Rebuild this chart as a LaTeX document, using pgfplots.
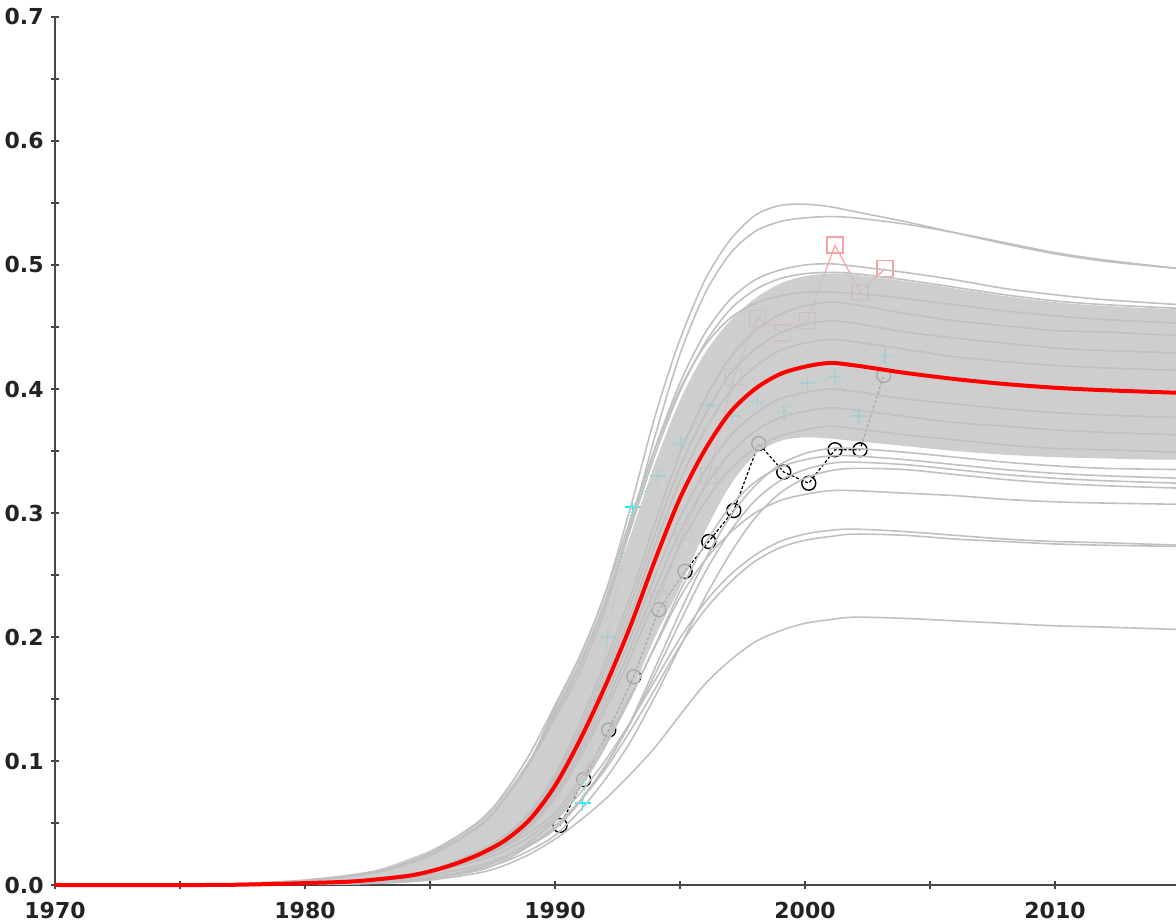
\documentclass[border=0pt]{standalone}
\usepackage{fontspec}
\setmainfont{DejaVu Sans}
\usepackage{pgfplots}
\pgfplotsset{compat=1.18}
\definecolor{bandc}{RGB}{198,198,198}
\definecolor{gline}{RGB}{192,192,192}
\definecolor{pinkm}{RGB}{255,160,160}
\definecolor{cyanm}{RGB}{0,255,255}
\definecolor{redm}{RGB}{255,0,0}
\definecolor{axgray}{RGB}{70,70,70}
\definecolor{txt}{RGB}{35,35,35}
\pgfplotsset{
  base/.style={scale only axis, width=560.5pt, height=434pt,
    xmin=1970, xmax=2014.84, ymin=0, ymax=0.7, at={(0pt,0pt)}, anchor=south west},
  gl/.style={gline, line width=0.8pt, smooth, mark=none},
}
\begin{document}
\begin{tikzpicture}
\useasboundingbox (-27.5pt,-19.5pt) rectangle (560.5pt,442.5pt);
\begin{axis}[base, clip marker paths=true,
  axis x line*=bottom, axis y line*=left,
  axis line style={-, draw=axgray, line width=1pt},
  xtick={1970,1980,1990,2000,2010}, xticklabels={1970,1980,1990,2000,2010},
  minor xtick={1975,1985,1995,2005},
  ytick={0,0.1,0.2,0.3,0.4,0.5,0.6,0.7},
  yticklabels={0.0,0.1,0.2,0.3,0.4,0.5,0.6,0.7},
  minor ytick={0.05,0.15,0.25,0.35,0.45,0.55,0.65},
  tick align=center, major tick length=4pt, minor tick length=4pt,
  tick style={draw=axgray, line width=0.8pt},
  tick label style={font=\fontsize{11}{13}\selectfont\bfseries, text=txt},
  yticklabel style={anchor=east, inner sep=0pt, xshift=-3.5pt},
  xticklabel style={anchor=north, inner sep=0pt, yshift=-6.5pt},
]
% --- observation series (drawn first, partly hidden by the ensemble) ---
\addplot[cyanm, densely dotted, line width=0.6pt, mark=+, mark size=4pt,
  mark options={solid, line width=0.8pt}] coordinates {
  (1991.1,0.066) (1992.1,0.200) (1993.1,0.305) (1994.1,0.330) (1995.05,0.356)
  (1996.1,0.387) (1997.1,0.378) (1998.1,0.390) (1999.15,0.381) (2000.1,0.405)
  (2001.2,0.410) (2002.15,0.378) (2003.2,0.427)};
\addplot[black, dash pattern=on 1.5pt off 1pt, line width=0.6pt, mark=o, mark size=3.5pt,
  mark options={solid, line width=0.7pt}] coordinates {
  (1990.2,0.048) (1991.15,0.085) (1992.15,0.125) (1993.15,0.168) (1994.15,0.222)
  (1995.2,0.253) (1996.15,0.277) (1997.15,0.302) (1998.15,0.356) (1999.15,0.333)
  (2000.15,0.324) (2001.2,0.351) (2002.2,0.351) (2003.15,0.411)};
\addplot[pinkm, line width=0.6pt, mark=square, mark size=4pt,
  mark options={line width=0.7pt}] coordinates {
  (1994.15,0.230) (1995.15,0.285) (1996.15,0.330) (1997.15,0.410) (1998.1,0.457)
  (1999.1,0.445) (2000.1,0.455) (2001.2,0.516) (2002.2,0.478) (2003.2,0.497)};
% --- dense core of the ensemble ---
\addplot[fill=bandc, draw=none, fill opacity=0.85, smooth] coordinates {
  (1976,0) (1978,0.001) (1980,0.0035) (1982,0.008) (1983,0.013) (1984,0.020)
  (1985,0.028) (1986,0.039) (1987,0.053) (1988,0.074) (1989,0.102) (1990,0.138)
  (1991,0.176) (1992,0.224) (1993,0.281) (1994,0.340) (1995,0.391) (1996,0.429)
  (1997,0.455) (1998,0.473) (1999,0.485) (2000,0.491) (2001,0.493) (2002,0.492)
  (2004,0.487) (2006,0.481) (2008,0.475) (2010,0.470) (2012,0.467) (2014,0.465)
  (2016,0.464) (2018,0.464)
  (2018,0.343) (2016,0.343) (2014,0.343) (2012,0.344) (2010,0.345) (2008,0.347)
  (2006,0.350) (2004,0.354) (2002,0.358) (2001,0.360) (2000,0.361) (1999,0.358)
  (1998,0.347) (1997,0.322) (1996,0.285) (1995,0.240) (1994,0.200) (1993,0.152)
  (1992,0.110) (1991,0.077) (1990,0.050) (1989,0.033) (1988,0.021) (1987,0.013)
  (1986,0.008) (1985,0.004) (1984,0.002) (1982,0.0005) (1980,0) (1976,0)} -- cycle;
% --- individual ensemble members ---
% inner members
\addplot[gl] coordinates {(1976,0) (1980,0.0017) (1983,0.0056) (1985,0.012) (1987,0.028) (1988,0.040) (1989,0.059) (1990,0.089) (1991,0.131) (1992,0.179) (1993,0.232) (1994,0.292) (1995,0.348) (1996,0.392) (1997,0.425) (1998,0.447) (1999,0.460) (2000,0.467) (2001,0.470) (2002,0.468) (2004,0.461) (2006,0.455) (2008,0.451) (2010,0.447) (2012,0.446) (2015,0.443)};
\addplot[gl] coordinates {(1976,0) (1980,0.0016) (1983,0.0055) (1985,0.012) (1987,0.027) (1988,0.039) (1989,0.057) (1990,0.086) (1991,0.126) (1992,0.173) (1993,0.225) (1994,0.283) (1995,0.337) (1996,0.379) (1997,0.412) (1998,0.432) (1999,0.445) (2000,0.452) (2001,0.455) (2002,0.453) (2004,0.446) (2006,0.441) (2008,0.437) (2010,0.433) (2012,0.431) (2015,0.429)};
\addplot[gl] coordinates {(1976,0) (1980,0.0016) (1983,0.0053) (1985,0.011) (1987,0.026) (1988,0.038) (1989,0.055) (1990,0.084) (1991,0.122) (1992,0.167) (1993,0.217) (1994,0.274) (1995,0.326) (1996,0.367) (1997,0.398) (1998,0.418) (1999,0.431) (2000,0.437) (2001,0.440) (2002,0.438) (2004,0.432) (2006,0.426) (2008,0.422) (2010,0.419) (2012,0.417) (2015,0.415)};
\addplot[gl] coordinates {(1976,0) (1980,0.0014) (1983,0.0048) (1985,0.010) (1987,0.024) (1988,0.034) (1989,0.050) (1990,0.076) (1991,0.111) (1992,0.152) (1993,0.198) (1994,0.249) (1995,0.296) (1996,0.334) (1997,0.362) (1998,0.380) (1999,0.392) (2000,0.397) (2001,0.400) (2002,0.398) (2004,0.392) (2006,0.388) (2008,0.384) (2010,0.381) (2012,0.379) (2015,0.377)};
\addplot[gl] coordinates {(1976,0) (1980,0.0014) (1983,0.0046) (1985,0.010) (1987,0.023) (1988,0.033) (1989,0.049) (1990,0.073) (1991,0.107) (1992,0.146) (1993,0.190) (1994,0.239) (1995,0.285) (1996,0.321) (1997,0.348) (1998,0.366) (1999,0.377) (2000,0.382) (2001,0.385) (2002,0.383) (2004,0.378) (2006,0.373) (2008,0.370) (2010,0.367) (2012,0.365) (2015,0.363)};
\addplot[gl] coordinates {(1976,0) (1980,0.0013) (1983,0.0044) (1985,0.0096) (1987,0.022) (1988,0.032) (1989,0.047) (1990,0.070) (1991,0.103) (1992,0.141) (1993,0.183) (1994,0.230) (1995,0.274) (1996,0.309) (1997,0.335) (1998,0.352) (1999,0.362) (2000,0.367) (2001,0.370) (2002,0.368) (2004,0.363) (2006,0.359) (2008,0.355) (2010,0.352) (2012,0.351) (2015,0.349)};
% A
\addplot[gl] coordinates {(1976,0) (1980,0.004) (1983,0.012) (1985,0.026) (1987,0.052) (1988,0.075) (1989,0.106) (1990,0.145) (1991,0.185) (1992,0.235) (1993,0.303) (1994,0.378) (1995,0.440) (1996,0.488) (1997,0.520) (1998,0.540) (1999,0.548) (2000,0.549) (2001,0.547) (2002,0.543) (2004,0.535) (2006,0.526) (2008,0.517) (2010,0.509) (2012,0.503) (2015,0.497)};
% B
\addplot[gl] coordinates {(1976,0) (1980,0.003) (1983,0.011) (1985,0.024) (1987,0.048) (1988,0.070) (1989,0.099) (1990,0.135) (1991,0.172) (1992,0.222) (1993,0.288) (1994,0.362) (1995,0.428) (1996,0.477) (1997,0.509) (1998,0.527) (1999,0.535) (2000,0.538) (2001,0.539) (2002,0.538) (2004,0.533) (2006,0.526) (2008,0.518) (2010,0.510) (2012,0.504) (2015,0.497)};
% U1
\addplot[gl] coordinates {(1976,0) (1980,0.003) (1983,0.011) (1985,0.024) (1987,0.048) (1988,0.070) (1989,0.100) (1990,0.140) (1991,0.180) (1992,0.229) (1993,0.290) (1994,0.352) (1995,0.405) (1996,0.445) (1997,0.472) (1998,0.488) (1999,0.496) (2000,0.500) (2001,0.501) (2002,0.499) (2004,0.494) (2006,0.488) (2008,0.481) (2010,0.476) (2012,0.472) (2015,0.468)};
% U2
\addplot[gl] coordinates {(1976,0) (1980,0.003) (1983,0.011) (1985,0.024) (1987,0.048) (1988,0.070) (1989,0.100) (1990,0.138) (1991,0.177) (1992,0.226) (1993,0.286) (1994,0.347) (1995,0.398) (1996,0.437) (1997,0.464) (1998,0.480) (1999,0.489) (2000,0.493) (2001,0.494) (2002,0.493) (2004,0.488) (2006,0.482) (2008,0.476) (2010,0.471) (2012,0.468) (2015,0.465)};
% U3
\addplot[gl] coordinates {(1976,0) (1980,0.003) (1983,0.011) (1985,0.024) (1987,0.048) (1988,0.070) (1989,0.100) (1990,0.143) (1991,0.184) (1992,0.234) (1993,0.294) (1994,0.352) (1995,0.400) (1996,0.435) (1997,0.457) (1998,0.469) (1999,0.475) (2000,0.478) (2001,0.478) (2002,0.477) (2004,0.473) (2006,0.468) (2008,0.463) (2010,0.459) (2012,0.456) (2015,0.453)};
% L8
\addplot[gl] coordinates {(1976,0) (1980,0.001) (1983,0.003) (1985,0.008) (1987,0.016) (1988,0.023) (1989,0.032) (1990,0.045) (1991,0.067) (1992,0.095) (1993,0.131) (1994,0.175) (1995,0.220) (1996,0.262) (1997,0.297) (1998,0.322) (1999,0.339) (2000,0.348) (2001,0.352) (2002,0.352) (2004,0.349) (2006,0.345) (2008,0.341) (2010,0.338) (2012,0.336) (2015,0.335)};
% L1
\addplot[gl] coordinates {(1976,0) (1980,0.001) (1983,0.004) (1985,0.010) (1987,0.020) (1988,0.028) (1989,0.039) (1990,0.055) (1991,0.080) (1992,0.112) (1993,0.150) (1994,0.193) (1995,0.237) (1996,0.275) (1997,0.305) (1998,0.325) (1999,0.337) (2000,0.343) (2001,0.346) (2002,0.346) (2004,0.343) (2006,0.339) (2008,0.335) (2010,0.332) (2012,0.330) (2015,0.328)};
% L2
\addplot[gl] coordinates {(1976,0) (1980,0.001) (1983,0.003) (1985,0.008) (1987,0.016) (1988,0.023) (1989,0.033) (1990,0.046) (1991,0.068) (1992,0.096) (1993,0.130) (1994,0.170) (1995,0.212) (1996,0.252) (1997,0.285) (1998,0.310) (1999,0.326) (2000,0.335) (2001,0.340) (2002,0.341) (2004,0.339) (2006,0.335) (2008,0.331) (2010,0.328) (2012,0.326) (2015,0.324)};
% L3
\addplot[gl] coordinates {(1976,0) (1980,0.0005) (1983,0.002) (1985,0.006) (1987,0.013) (1988,0.019) (1989,0.028) (1990,0.040) (1991,0.060) (1992,0.085) (1993,0.115) (1994,0.152) (1995,0.192) (1996,0.232) (1997,0.267) (1998,0.296) (1999,0.316) (2000,0.328) (2001,0.334) (2002,0.336) (2004,0.335) (2006,0.331) (2008,0.327) (2010,0.324) (2012,0.322) (2015,0.320)};
% L4
\addplot[gl] coordinates {(1976,0) (1980,0.001) (1983,0.004) (1985,0.010) (1987,0.022) (1988,0.031) (1989,0.043) (1990,0.058) (1991,0.085) (1992,0.116) (1993,0.152) (1994,0.192) (1995,0.232) (1996,0.262) (1997,0.284) (1998,0.300) (1999,0.310) (2000,0.315) (2001,0.318) (2002,0.318) (2004,0.316) (2006,0.314) (2008,0.311) (2010,0.309) (2012,0.308) (2015,0.307)};
% L5
\addplot[gl] coordinates {(1976,0) (1980,0.0005) (1983,0.002) (1985,0.005) (1987,0.014) (1988,0.022) (1989,0.035) (1990,0.052) (1991,0.074) (1992,0.100) (1993,0.131) (1994,0.165) (1995,0.199) (1996,0.228) (1997,0.250) (1998,0.266) (1999,0.277) (2000,0.283) (2001,0.286) (2002,0.287) (2004,0.285) (2006,0.282) (2008,0.279) (2010,0.277) (2012,0.276) (2015,0.274)};
% L6
\addplot[gl] coordinates {(1976,0) (1980,0.0005) (1983,0.002) (1985,0.005) (1987,0.012) (1988,0.020) (1989,0.032) (1990,0.048) (1991,0.068) (1992,0.093) (1993,0.124) (1994,0.158) (1995,0.193) (1996,0.222) (1997,0.244) (1998,0.261) (1999,0.272) (2000,0.278) (2001,0.281) (2002,0.283) (2004,0.282) (2006,0.279) (2008,0.277) (2010,0.275) (2012,0.274) (2015,0.273)};
% L7
\addplot[gl] coordinates {(1976,0) (1980,0.0003) (1983,0.0015) (1985,0.004) (1987,0.010) (1988,0.016) (1989,0.025) (1990,0.037) (1991,0.052) (1992,0.069) (1993,0.089) (1994,0.111) (1995,0.137) (1996,0.162) (1997,0.181) (1998,0.196) (1999,0.205) (2000,0.211) (2001,0.214) (2002,0.216) (2004,0.215) (2006,0.213) (2008,0.211) (2010,0.209) (2012,0.208) (2015,0.206)};
\end{axis}
% --- median (unclipped so it keeps its full width on the x axis) ---
\begin{axis}[base, hide axis, clip=false]
\addplot[redm, line width=2pt, smooth, mark=none] coordinates {
  (1970,0) (1976,0) (1978,0.0005) (1980,0.0015) (1982,0.003) (1984,0.007) (1985,0.011)
  (1986,0.017) (1987,0.025) (1988,0.036) (1989,0.053) (1990,0.080) (1991,0.117)
  (1992,0.160) (1993,0.208) (1994,0.262) (1995,0.312) (1996,0.351) (1997,0.381)
  (1998,0.400) (1999,0.412) (2000,0.418) (2001,0.421) (2002,0.419) (2003,0.416)
  (2004,0.413) (2006,0.408) (2008,0.404) (2010,0.401) (2012,0.399) (2014.84,0.397)};
\end{axis}
\end{tikzpicture}
\end{document}
